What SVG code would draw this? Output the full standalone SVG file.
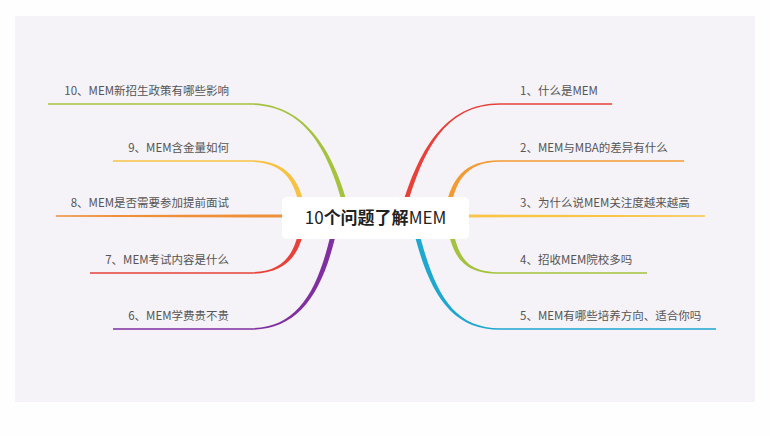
<svg xmlns="http://www.w3.org/2000/svg" width="770" height="436" viewBox="0 0 770 436">
<style>
.t{font-family:"Noto Sans CJK SC","Noto Sans",sans-serif;font-size:11.5px;fill:#555}
.l{text-anchor:end}
.c{font-family:"Noto Sans CJK SC","Noto Sans",sans-serif;font-size:17px;fill:#222}
</style>
<rect x="0" y="0" width="770" height="436" fill="#fefefe"/>
<rect x="15" y="16" width="740" height="386" fill="#f5f3f8"/>
<g id="connectors">
<path fill="#e6423a" d="M399.5,215 C417.5,150 445,103.2 500,103.2 H612 V104.8 H500 C445,104.8 422.5,150 404.5,215 Z"/>
<path fill="#f39a32" d="M444.5,215 C449.5,178 465,160.2 500,160.2 H684 V161.8 H500 C465,161.8 454.5,182 449.5,215 Z"/>
<path fill="#f8c547" d="M460,214.5 L705,215.2 V216.8 L460,217.5 Z"/>
<path fill="#a4c23d" d="M446.5,222 C452.5,260 465,273.8 500,273.8 H647 V272.2 H500 C465,272.2 457.5,256 451.5,222 Z"/>
<path fill="#1ea7cf" d="M411.5,222 C427.5,292 450,329.8 500,329.8 H716 V328.2 H500 C450,328.2 432.5,288 416.5,222 Z"/>
<path fill="#a4c23d" d="M350.5,215 C334.5,150 305,103.2 250,103.2 H48 V104.8 H250 C305,104.8 329.5,150 345.5,215 Z"/>
<path fill="#f7c243" d="M305.5,212 C300.5,178 285,160.2 250,160.2 H113 V161.8 H250 C285,161.8 295.5,182 300.5,212 Z"/>
<path fill="#ef8f3a" d="M292,214.5 L56,215.2 V216.8 L292,217.5 Z"/>
<path fill="#e6423a" d="M305.5,222 C300.5,257 285,273.8 250,273.8 H90 V272.2 H250 C285,272.2 295.5,253 300.5,222 Z"/>
<path fill="#7f2f9f" d="M338.5,222 C324.5,292 300,329.8 250,329.8 H113 V328.2 H250 C300,328.2 319.5,288 333.5,222 Z"/>
</g>
<g id="center">
<rect x="282" y="197" width="187" height="42" rx="5" fill="#ffffff"/>
<text class="c" x="375.5" y="224" text-anchor="middle">10<tspan font-weight="bold">个问题了解</tspan>MEM</text>
</g>
<g id="n1"><text class="t" x="520" y="94.5">1、什么是MEM</text></g>
<g id="n2"><text class="t" x="520" y="151.5">2、MEM与MBA的差异有什么</text></g>
<g id="n3"><text class="t" x="520" y="206.5">3、为什么说MEM关注度越来越高</text></g>
<g id="n4"><text class="t" x="520" y="263.5">4、招收MEM院校多吗</text></g>
<g id="n5"><text class="t" x="520" y="319.5">5、MEM有哪些培养方向、适合你吗</text></g>
<g id="n6"><text class="t l" x="229" y="319.5">6、MEM学费贵不贵</text></g>
<g id="n7"><text class="t l" x="229" y="263.5">7、MEM考试内容是什么</text></g>
<g id="n8"><text class="t l" x="229" y="206.5">8、MEM是否需要参加提前面试</text></g>
<g id="n9"><text class="t l" x="229" y="151.5">9、MEM含金量如何</text></g>
<g id="n10"><text class="t l" x="229" y="94.5">10、MEM新招生政策有哪些影响</text></g>
</svg>
